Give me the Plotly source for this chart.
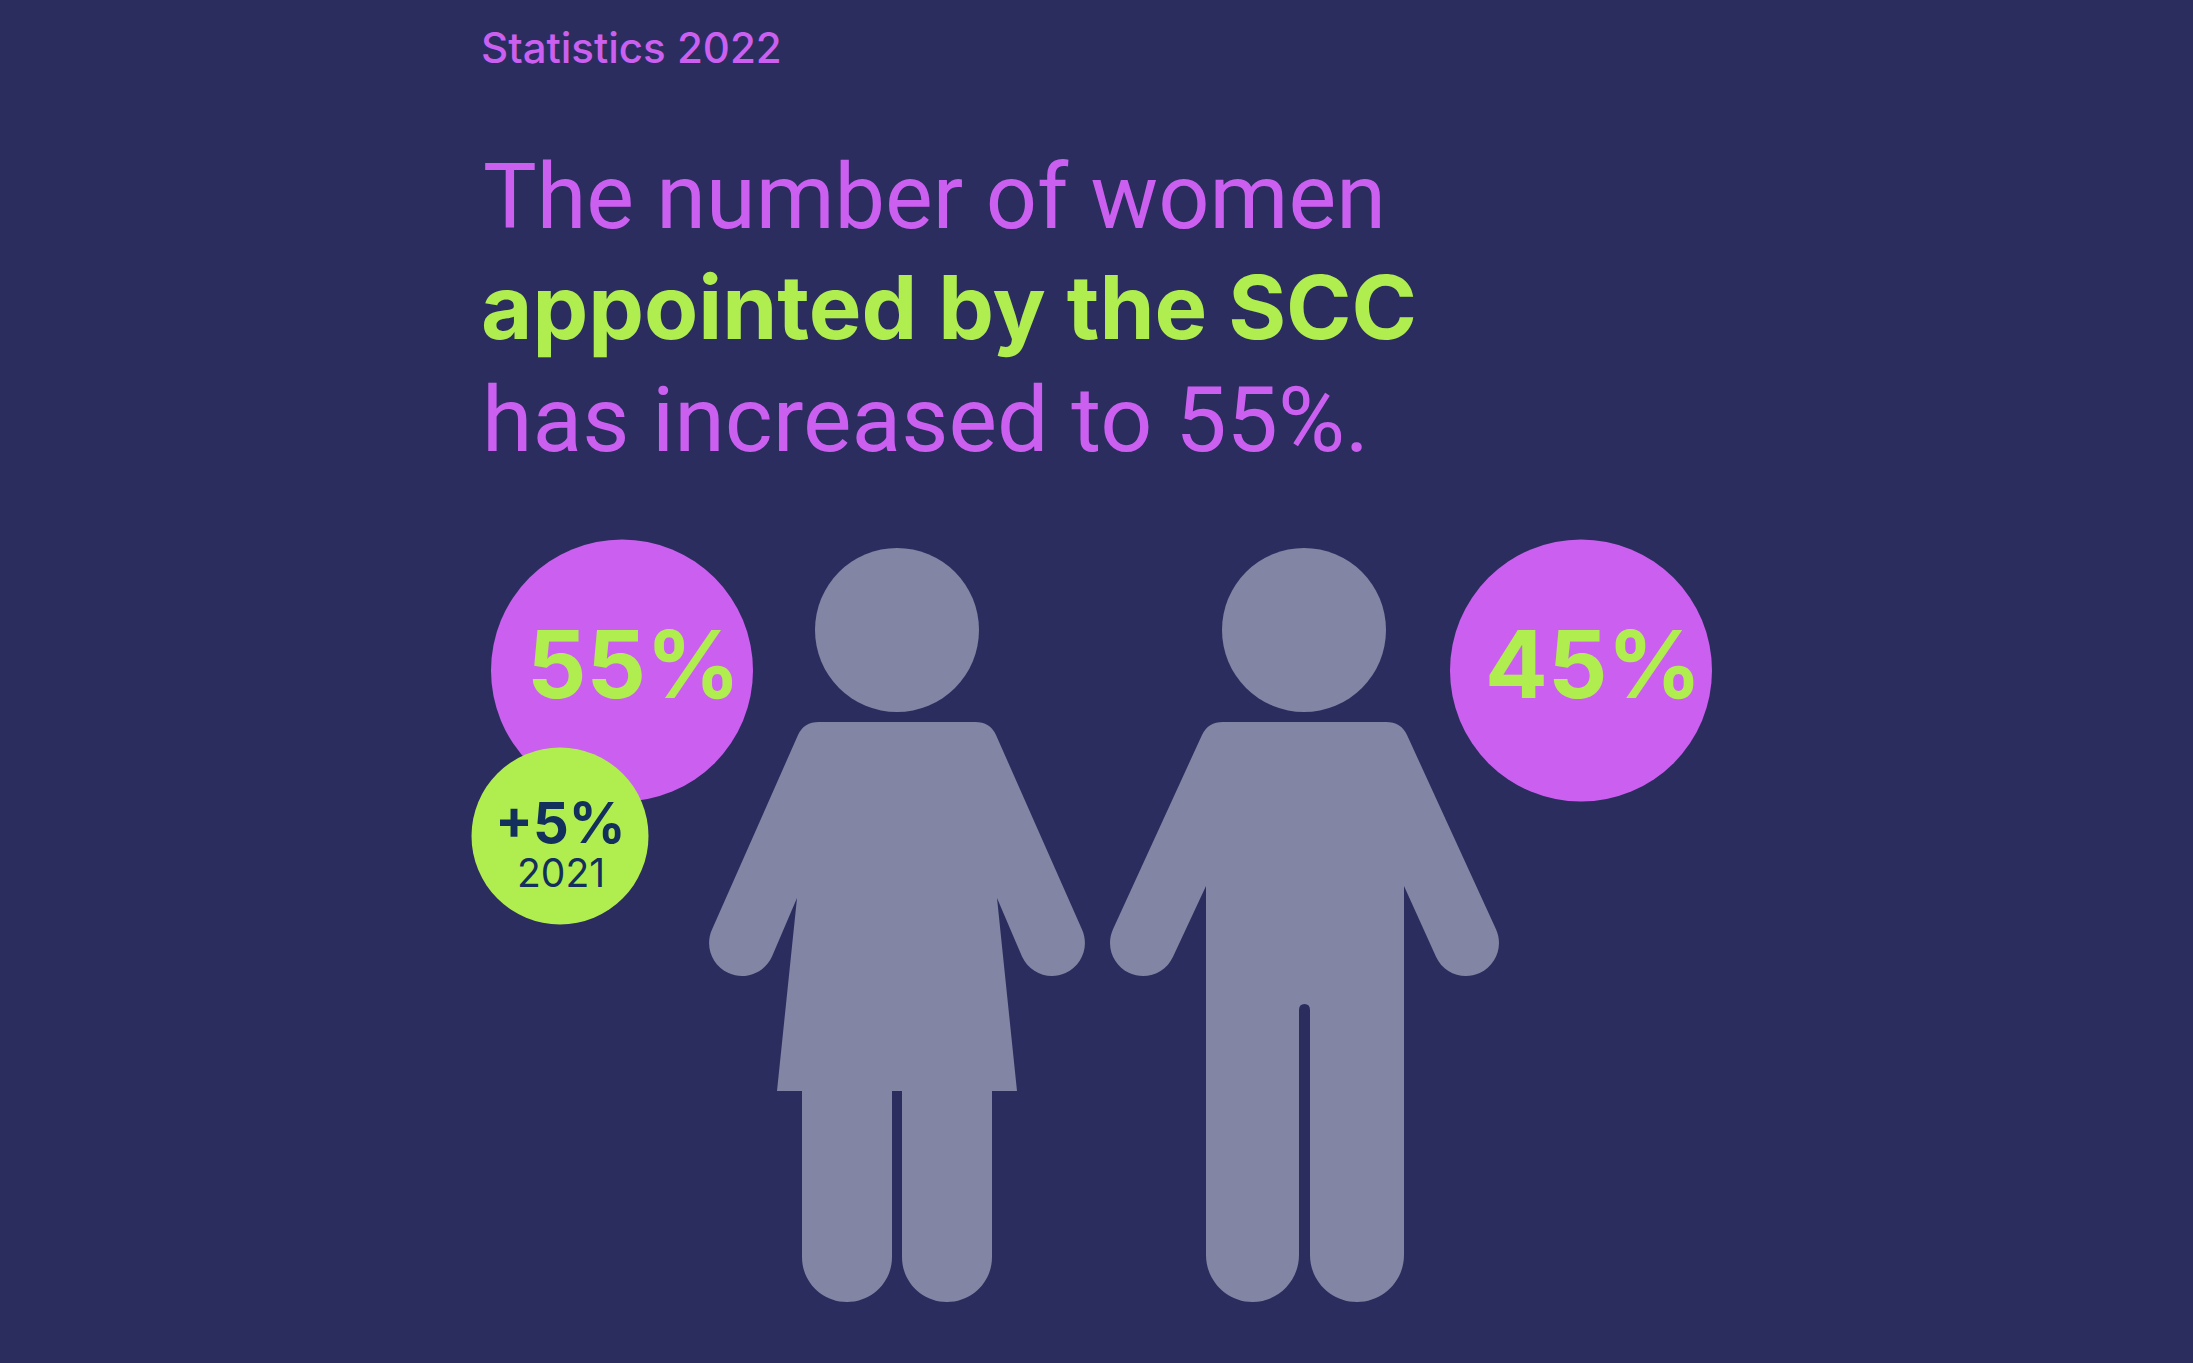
from plotly import graph_objects as go

# labels and values
eyebrow = 'Statistics 2022'
headline = ['The number of women', 'appointed by the SCC', 'has increased to 55%.']
groups = ['women', 'men']
shares = [55, 45]
change = 5
change_year = '2021'

BG = '#2B2D5F'
PINK = '#CB60F0'
LIME = '#B0EE50'
GREY = '#8285A3'
DARK = '#13305C'

woman = ('M 819 722 L 975 722 Q 990.2 722 996 735 L 1082 929.5 '
         'C 1089.5 946.1 1082.1 965.6 1065.5 973.1 C 1048.9 980.6 1029.5 973.1 1022 956.5 '
         'L 997 898 L 1017 1091 L 992 1091 L 992 1257 C 992 1282 972 1302 947 1302 '
         'C 922 1302 902 1282 902 1257 L 902 1091 L 892 1091 L 892 1257 '
         'C 892 1282 872 1302 847 1302 C 822 1302 802 1282 802 1257 L 802 1091 '
         'L 777 1091 L 797 898 L 772 956.5 C 764.5 973.1 745.1 980.6 728.5 973.1 '
         'C 711.9 965.6 704.5 946.1 712 929.5 L 798 735 Q 803.8 722 819 722 Z')

man = ('M 1223 722 L 1386 722 Q 1401 722 1407 735 L 1496 929.3 '
       'C 1503.55 945.9 1496.3 965.45 1479.7 973 C 1463.1 980.55 1443.55 973.3 1436 956.7 '
       'L 1404 886 L 1404 1255 C 1404 1281 1383 1302 1357 1302 '
       'C 1331 1302 1310 1281 1310 1255 L 1310 1010 Q 1310 1004 1304.5 1004 '
       'Q 1299 1004 1299 1010 L 1299 1255 C 1299 1281 1278 1302 1252.5 1302 '
       'C 1227 1302 1206 1281 1206 1255 L 1206 886 L 1173 956.7 '
       'C 1165.45 973.3 1145.9 980.55 1129.3 973 C 1112.7 965.45 1105.45 945.9 1113 929.3 '
       'L 1202 735 Q 1208 722 1223 722 Z')

shapes = [
    dict(type='circle', xref='x', yref='y', x0=815, x1=979, y0=548, y1=712,
         fillcolor=GREY, line_width=0, layer='below'),
    dict(type='circle', xref='x', yref='y', x0=1222, x1=1386, y0=548, y1=712,
         fillcolor=GREY, line_width=0, layer='below'),
    dict(type='path', path=woman, fillcolor=GREY, line_width=0, layer='below'),
    dict(type='path', path=man, fillcolor=GREY, line_width=0, layer='below'),
]

# bubbles go on as markers so the lime one sits on top of the pink one
fig = go.Figure()
fig.add_trace(go.Scatter(
    x=[622, 1581], y=[670.5, 670.5], mode='markers', name='share', text=groups,
    marker=dict(size=262, color=PINK, line_width=0), hoverinfo='skip'))
fig.add_trace(go.Scatter(
    x=[560], y=[836], mode='markers', name='change',
    marker=dict(size=177, color=LIME, line_width=0), hoverinfo='skip'))


def label(text, x, y, size, color, weight=400, anchor='left', family='Inter'):
    fig.add_annotation(
        x=x, y=y, text=text, showarrow=False, xanchor=anchor, yanchor='middle',
        xref='x', yref='y',
        font=dict(family=family, size=size, color=color, weight=weight))


label(eyebrow, 479, 47, 42, PINK, 500)
label(headline[0], 481, 197, 90, PINK, 400, family='Roboto')
label(headline[1], 479, 306, 88.5, LIME, 700)
label(headline[2], 480, 419, 91.5, PINK, 400, family='Roboto')
label(str(shares[0]) + '%', 633, 664, 93, LIME, 700, 'center')
label(str(shares[1]) + '%', 1593, 664, 93, LIME, 700, 'center')
label('+' + str(change) + '%', 560, 823, 56, DARK, 700, 'center')
label(change_year, 561, 872, 39, DARK, 400, 'center')

fig.update_layout(
    width=2193, height=1363, margin=dict(l=0, r=0, t=0, b=0),
    paper_bgcolor=BG, plot_bgcolor=BG, showlegend=False, shapes=shapes,
    xaxis=dict(range=[0, 2193], visible=False, fixedrange=True),
    yaxis=dict(range=[1363, 0], visible=False, fixedrange=True),
)

fig.write_html('out.html', config=dict(displayModeBar=False),
               post_script="document.body.style.margin='0';document.body.style.background='%s';" % BG)
